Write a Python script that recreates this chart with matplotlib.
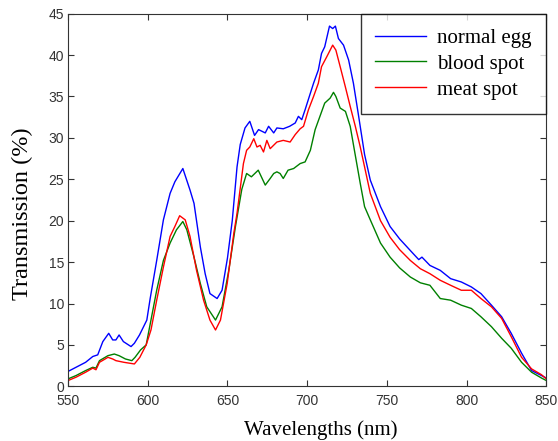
import matplotlib
matplotlib.use("Agg")
import matplotlib.pyplot as plt

# normal egg (blue)
wl_normal = [550, 555, 561, 565.5, 568.6, 571.8, 575.5, 578, 580, 582,
             584.7, 589.5, 591.6, 594.8, 599.4, 601.5, 605.6, 609.8, 614, 617,
             622, 626.5, 629, 633, 636, 639, 643.5, 646.6, 650, 653,
             656, 658, 661, 664, 667, 669.5, 673.7, 675.8, 679, 681,
             685, 689, 692.5, 694.5, 696.6, 698.7, 702, 704, 707, 709,
             711, 714, 716, 717.7, 719.6, 722.8, 726, 729, 732.3, 736,
             739.6, 746, 752, 758, 764.7, 770, 772, 777, 783.5, 790,
             796.7, 803, 809, 815.6, 822, 828, 834.5, 840.8, 847, 850]
normal_egg = [1.8, 2.3, 2.9, 3.6, 3.8, 5.4, 6.4, 5.6, 5.6, 6.2,
              5.4, 4.8, 5.2, 6.2, 8.0, 10.6, 15.2, 20.1, 23.3, 24.7,
              26.3, 23.7, 22.1, 16.8, 13.6, 11.2, 10.6, 11.6, 15.5, 20.0,
              26.5, 29.2, 31.2, 32.0, 30.3, 31.0, 30.6, 31.4, 30.6, 31.2,
              31.1, 31.4, 31.8, 32.6, 32.2, 33.4, 35.4, 36.6, 38.2, 40.2,
              41.0, 43.5, 43.2, 43.5, 42.0, 41.2, 39.4, 36.6, 32.6, 28.0,
              24.9, 21.7, 19.3, 17.8, 16.4, 15.3, 15.6, 14.6, 14.0, 13.0,
              12.6, 12.0, 11.2, 9.8, 8.4, 6.4, 4.0, 1.9, 1.3, 1.0]

# blood spot (green)
wl_blood = [550, 555, 561, 565.5, 567.5, 569.7, 575, 579, 582, 586,
            590, 592, 595.5, 599, 601.5, 605.6, 609.8, 614, 618, 622,
            624.5, 629, 633, 637, 642.5, 646.6, 650.8, 655, 659, 662,
            665, 669.3, 673.7, 676.8, 679, 681, 683, 685, 688, 691.5,
            695.6, 698.7, 702, 705, 708, 711, 714.4, 716.5, 718, 720.7,
            724, 727, 730, 733.3, 736, 739.6, 746, 752, 758, 764.7,
            771, 777, 783.5, 790, 796.7, 803, 809, 815.6, 822, 828,
            834.5, 840.8, 847, 850]
blood_spot = [0.9, 1.3, 1.9, 2.3, 2.2, 3.1, 3.7, 3.9, 3.7, 3.3,
              3.1, 3.5, 4.4, 5.0, 7.5, 11.6, 15.2, 17.3, 18.9, 19.9,
              18.9, 15.6, 12.4, 9.6, 8.0, 9.6, 14.0, 19.3, 23.8, 25.7,
              25.3, 26.1, 24.3, 25.1, 25.7, 25.9, 25.7, 25.1, 26.1, 26.3,
              26.9, 27.1, 28.5, 31.0, 32.6, 34.2, 34.8, 35.5, 35.0, 33.6,
              33.2, 31.4, 28.1, 24.5, 21.7, 20.1, 17.3, 15.6, 14.3, 13.2,
              12.5, 12.2, 10.6, 10.4, 9.8, 9.4, 8.4, 7.2, 5.8, 4.6,
              2.9, 1.7, 1.0, 0.7]

# meat spot (red)
wl_meat = [550, 555, 561, 565.5, 567.5, 569.7, 575, 578, 580, 585,
           591.6, 595, 599, 602, 605.6, 609.8, 614, 617, 620, 623.5,
           626.5, 630.6, 635, 639, 642.5, 645.6, 649.8, 654, 656, 660,
           662, 664, 666.5, 668.5, 670.5, 672.6, 674.7, 676.8, 681, 685,
           689.3, 692.5, 695.6, 697.7, 700.8, 704, 707, 709, 712.3, 716,
           718, 720.7, 723.9, 727, 730.2, 733.3, 739.6, 746, 752, 758,
           764.7, 771, 777, 783.5, 790, 796.7, 803, 809, 815.6, 822,
           828, 834.5, 840.8, 847, 850]
meat_spot = [0.7, 1.1, 1.7, 2.2, 2.0, 2.9, 3.5, 3.3, 3.1, 2.9,
             2.7, 3.5, 5.0, 6.8, 10.4, 14.4, 18.1, 19.3, 20.6, 20.1,
             18.1, 14.0, 10.4, 8.0, 6.8, 8.0, 12.4, 18.5, 20.9, 26.9,
             28.5, 28.9, 29.9, 28.9, 29.1, 28.3, 29.7, 28.7, 29.5, 29.7,
             29.5, 30.4, 31.1, 31.4, 33.4, 35.0, 36.6, 38.6, 39.8, 41.2,
             40.6, 38.6, 36.2, 33.8, 31.4, 28.9, 23.3, 20.0, 18.0, 16.5,
             15.2, 14.2, 13.6, 12.8, 12.2, 11.6, 11.6, 10.6, 9.6, 8.2,
             6.0, 3.5, 2.1, 1.4, 0.9]

x_ticks = [550, 600, 650, 700, 750, 800, 850]
y_ticks = [0, 5, 10, 15, 20, 25, 30, 35, 40, 45]

fig = plt.figure(figsize=(5.58, 4.41), dpi=100)
ax = fig.add_axes([0.122, 0.124, 0.857, 0.845])

ax.plot(wl_normal, normal_egg, color="#0000ff", lw=1.0, label="normal egg")
ax.plot(wl_blood, blood_spot, color="#008000", lw=1.0, label="blood spot")
ax.plot(wl_meat, meat_spot, color="#ff0000", lw=1.0, label="meat spot")

ax.set_xlim(550, 850)
ax.set_ylim(0, 45)
ax.set_xticks(x_ticks)
ax.set_yticks(y_ticks)
ax.tick_params(direction="in", length=4, width=0.8, top=True, right=True,
               labelsize=10, colors="#333333")
ax.tick_params(axis="x", pad=5.5)
ax.tick_params(axis="y", pad=3)
for tl in ax.get_xticklabels() + ax.get_yticklabels():
    tl.set_fontfamily("Liberation Sans")
for s in ax.spines.values():
    s.set_color("#333333")
    s.set_linewidth(0.8)

ax.set_xlabel("Wavelengths (nm)", fontfamily="Liberation Serif", fontsize=15)
ax.set_ylabel("Transmission (%)", fontfamily="Liberation Serif", fontsize=17.5)
ax.xaxis.set_label_coords(0.529, -0.09)
ax.yaxis.set_label_coords(-0.073, 0.462)

leg = ax.legend(loc="upper right", borderaxespad=0, fancybox=False,
                prop={"family": "Liberation Serif", "size": 15},
                handlelength=2.45, handletextpad=0.53, borderpad=0.7,
                labelspacing=0.3)
leg.get_frame().set_edgecolor("black")
leg.get_frame().set_linewidth(1.0)

fig.savefig("out.png", dpi=100)
